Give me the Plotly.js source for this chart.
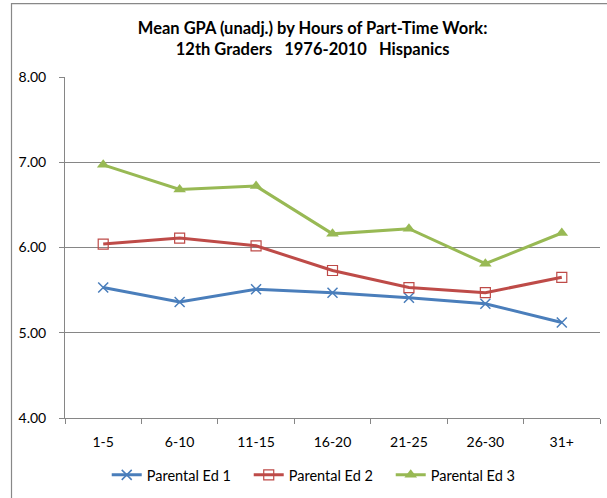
<!DOCTYPE html>
<html><head><meta charset="utf-8">
<script src="https://cdn.plot.ly/plotly-3.0.1.min.js"></script>
<style>html,body{margin:0;padding:0;background:#fff}#chart{width:607px;height:498px}</style>
</head><body><div id="chart"></div>
<script>
var categories = ["1-5","6-10","11-15","16-20","21-25","26-30","31+"];
var parentalEd1 = [5.53,5.36,5.51,5.47,5.41,5.34,5.12];
var parentalEd2 = [6.04,6.11,6.02,5.73,5.53,5.47,5.65];
var parentalEd3 = [6.97,6.68,6.72,6.16,6.22,5.81,6.17];
var yTicks = [4,5,6,7,8];
var yTickLabels = ["4.00","5.00","6.00","7.00","8.00"];

var font = "Lato, 'Open Sans', sans-serif";
var traces = [
  {x:categories,y:parentalEd1,name:"Parental Ed 1",type:"scatter",mode:"lines+markers",
   line:{color:"#4A7EBB",width:3},marker:{symbol:"x-thin",size:10,line:{color:"#4A7EBB",width:1.5},color:"#4A7EBB"}},
  {x:categories,y:parentalEd2,name:"Parental Ed 2",type:"scatter",mode:"lines+markers",
   line:{color:"#BE4B48",width:3},marker:{symbol:"square-open",size:10,line:{color:"#BE4B48",width:1.2},color:"#BE4B48"}},
  {x:categories,y:parentalEd3,name:"Parental Ed 3",type:"scatter",mode:"lines+markers",
   line:{color:"#98B954",width:3},marker:{symbol:"triangle-up",size:11,color:"#98B954"}}
];
var layout = {
  width:607,height:498,
  margin:{l:64.5,r:7,t:77,b:78},
  paper_bgcolor:"#fff",plot_bgcolor:"#fff",
  font:{family:font,size:14,color:"#000"},
  title:{text:"<b>Mean GPA (unadj.) by Hours of Part-Time Work:<br>12th Graders   1976-2010   Hispanics</b>",
    x:0.515,xanchor:"center",y:0.932,yanchor:"top",font:{family:font,size:16.5,color:"#000"}},
  xaxis:{type:"category",showgrid:false,showline:true,linecolor:"#868686",linewidth:1,
    ticks:"outside",tickson:"boundaries",ticklen:5,tickcolor:"#868686",ticklabelstandoff:11,
    tickfont:{family:font,size:14},range:[-0.5,6.5]},
  yaxis:{range:[4,8],tickvals:yTicks,ticktext:yTickLabels,showgrid:true,gridcolor:"#868686",gridwidth:1,
    showline:true,linecolor:"#868686",ticks:"outside",ticklen:5,tickcolor:"#868686",zeroline:false,
    ticklabelstandoff:10,tickfont:{family:font,size:14}},
  showlegend:true,
  legend:{orientation:"h",x:0.078,xanchor:"left",y:-0.12,yanchor:"top",font:{family:font,size:14.5},
    itemwidth:30,entrywidth:97,tracegroupgap:0},
  shapes:[{type:"rect",xref:"paper",yref:"paper",x0:-0.1,x1:1.05,y0:-0.35,y1:1.215,line:{color:"#888",width:1.2},fillcolor:"rgba(0,0,0,0)",layer:"below"}]
};
Plotly.newPlot("chart",traces,layout,{displayModeBar:false});
</script></body></html>
